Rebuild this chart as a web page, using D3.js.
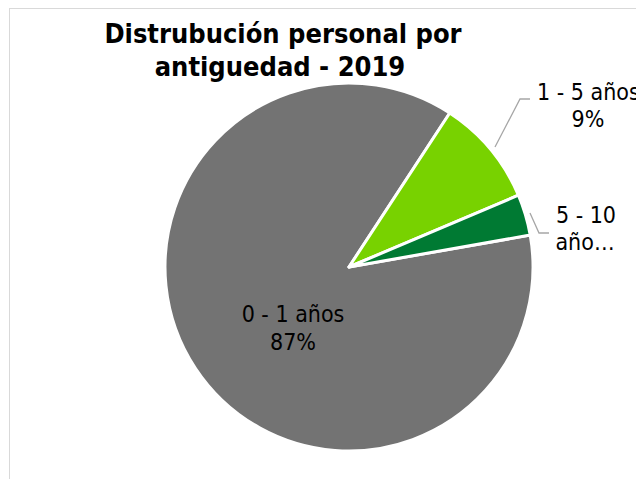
<!DOCTYPE html>
<html>
<head>
<meta charset="utf-8">
<script src="https://cdn.jsdelivr.net/npm/d3@7"></script>
<style>
  body { margin: 0; background: #fff; }
  text { font-family: "DejaVu Sans Condensed", "DejaVu Sans", sans-serif; }
</style>
</head>
<body>
<svg width="636" height="479"></svg>
<script>
var categories = ["0 - 1 años", "1 - 5 años", "5 - 10 años"];
var values = [87, 9.4, 3.6];
var pctLabels = ["87%", "9%", "4%"];
var colors = ["#737373", "#78d200", "#007a33"];

var svg = d3.select("svg"),
    width = +svg.attr("width"),
    height = +svg.attr("height");

// chart area border
svg.append("rect")
    .attr("x", 9.5).attr("y", 8.5)
    .attr("width", 700).attr("height", 600)
    .attr("fill", "#fff")
    .attr("stroke", "#d9d9d9")
    .attr("stroke-width", 1);

var cx = 349, cy = 267, r = 184;

var data = categories.map((c, i) => ({ name: c, value: values[i], pct: pctLabels[i], color: colors[i] }));

var pie = d3.pie()
    .value(d => d.value)
    .sort(null)
    .startAngle(80 * Math.PI / 180)
    .endAngle(440 * Math.PI / 180);

var arc = d3.arc().innerRadius(0).outerRadius(r);

var arcs = pie(data);

var g = svg.append("g").attr("transform", "translate(" + cx + "," + cy + ")");

g.selectAll("path")
    .data(arcs)
    .enter()
    .append("path")
    .attr("d", arc)
    .attr("fill", d => d.data.color)
    .attr("stroke", "#fff")
    .attr("stroke-width", 3)
    .attr("stroke-linejoin", "round");

// leader lines
var leaders = [
    null,
    [[495, 147], [520, 99], [530, 99]],
    [[530, 213], [539, 233], [549, 233]]
];
leaders.forEach(function(pts){
    if(!pts) return;
    svg.append("polyline")
        .attr("points", pts.map(p => p.join(",")).join(" "))
        .attr("fill", "none")
        .attr("stroke", "#a6a6a6")
        .attr("stroke-width", 1.3);
});

// labels
var lab = svg.append("g").attr("font-size", 23).attr("fill", "#000");

lab.append("text").attr("x", 293).attr("y", 322).attr("text-anchor", "middle").text(categories[0]);
lab.append("text").attr("x", 293).attr("y", 350).attr("text-anchor", "middle").text(pctLabels[0]);

lab.append("text").attr("x", 537).attr("y", 100).text(categories[1]);
lab.append("text").attr("x", 588).attr("y", 127).attr("text-anchor", "middle").text(pctLabels[1]);

lab.append("text").attr("x", 586).attr("y", 223).attr("text-anchor", "middle").text("5 - 10");
lab.append("text").attr("x", 585).attr("y", 250).attr("text-anchor", "middle").text("año…");

// title
var title = svg.append("g").attr("font-size", 27).attr("font-weight", "bold").attr("fill", "#000");
title.append("text").attr("x", 283).attr("y", 43).attr("text-anchor", "middle").text("Distrubución personal por");
title.append("text").attr("x", 280).attr("y", 76).attr("text-anchor", "middle").text("antiguedad - 2019");
</script>
</body>
</html>
